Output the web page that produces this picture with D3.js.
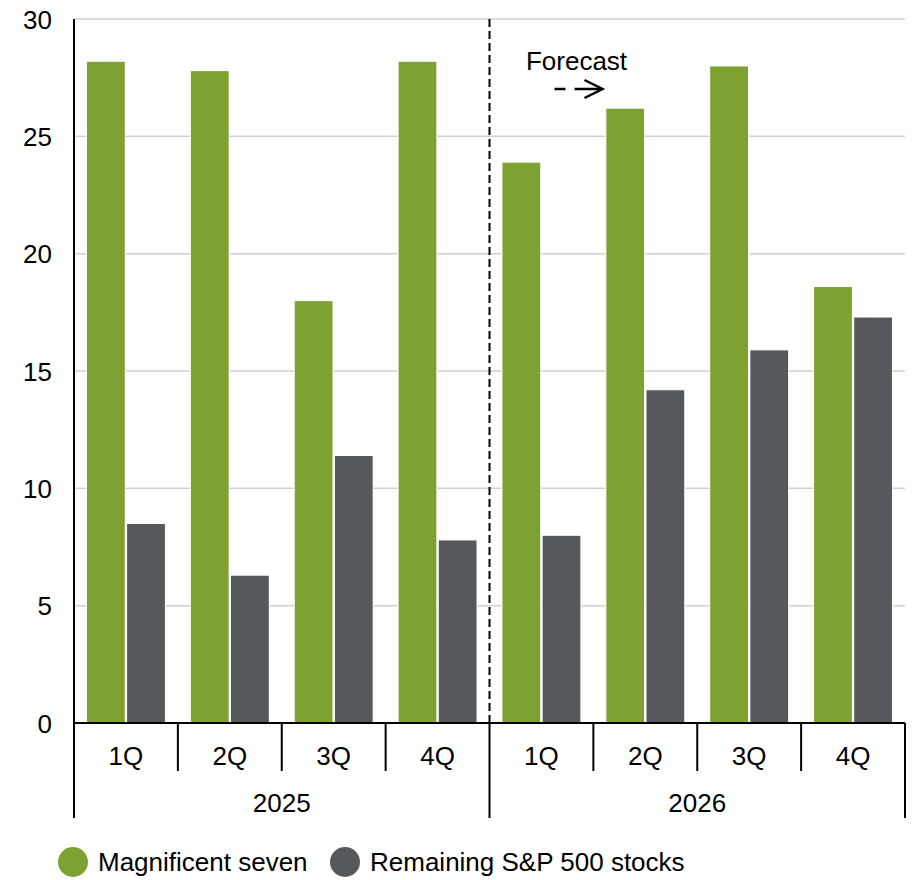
<!DOCTYPE html>
<html>
<head>
<meta charset="utf-8">
<script src="https://cdn.jsdelivr.net/npm/d3@7"></script>
<style>
  body { margin: 0; background: #fff; }
  text { font-family: "Liberation Sans", Arial, sans-serif; fill: #000; }
</style>
</head>
<body>
<div id="wrapper"></div>
<script>
const years = ["2025", "2026"]
const quarters = ["1Q", "2Q", "3Q", "4Q"]
const magSeven = [28.2, 27.8, 18.0, 28.2, 23.9, 26.2, 28.0, 18.6]
const remaining = [8.5, 6.3, 11.4, 7.8, 8.0, 14.2, 15.9, 17.3]
const yTicks = [0, 5, 10, 15, 20, 25, 30]
const seriesNames = ["Magnificent seven", "Remaining S&P 500 stocks"]
const colors = ["#7ea231", "#55595c"]

const fontSize = "26px"

const dimensions = {
  width: 922,
  height: 880,
  margin: { top: 19, right: 17, bottom: 157, left: 74 },
}
dimensions.boundedWidth = dimensions.width - dimensions.margin.left - dimensions.margin.right
dimensions.boundedHeight = dimensions.height - dimensions.margin.top - dimensions.margin.bottom

const categories = []
years.forEach(y => quarters.forEach(q => categories.push(y + "-" + q)))

const svg = d3.select("#wrapper")
  .append("svg")
    .attr("width", dimensions.width)
    .attr("height", dimensions.height)

const bounds = svg.append("g")
    .attr("transform", `translate(${dimensions.margin.left},${dimensions.margin.top})`)

const xScale = d3.scaleBand()
    .domain(categories)
    .range([0, dimensions.boundedWidth])
    .paddingInner(0.24)
    .paddingOuter(0.12)

const yearScale = d3.scaleBand()
    .domain(years)
    .range([0, dimensions.boundedWidth])

const subScale = d3.scaleBand()
    .domain([0, 1])
    .range([0, xScale.bandwidth()])
    .paddingInner(0.034)

const yScale = d3.scaleLinear()
    .domain([0, 30])
    .range([dimensions.boundedHeight, 0])

// gridlines
bounds.append("g")
  .selectAll("line")
  .data(yTicks.filter(d => d > 0))
  .join("line")
    .attr("x1", 0)
    .attr("x2", dimensions.boundedWidth)
    .attr("y1", d => yScale(d))
    .attr("y2", d => yScale(d))
    .attr("stroke", "#d0d0d0")
    .attr("stroke-width", 1.5)

// bars
const rows = categories.map((c, i) => ({ cat: c, values: [magSeven[i], remaining[i]] }))
const groups = bounds.append("g")
  .selectAll("g")
  .data(rows)
  .join("g")
    .attr("transform", d => `translate(${xScale(d.cat)},0)`)

groups.selectAll("rect")
  .data(d => d.values.map((v, k) => ({ v, k })))
  .join("rect")
    .attr("x", d => subScale(d.k))
    .attr("y", d => yScale(d.v))
    .attr("width", subScale.bandwidth())
    .attr("height", d => dimensions.boundedHeight - yScale(d.v))
    .attr("fill", d => colors[d.k])
    .attr("stroke", "#fff")
    .attr("stroke-width", 1)

// y axis labels
const yAxis = bounds.append("g")
  .call(d3.axisLeft(yScale).tickValues(yTicks).tickSize(0).tickPadding(22))
yAxis.select(".domain").remove()
yAxis.selectAll("text")
    .style("font-size", fontSize)
    .attr("dy", "0.35em")
    .style("font-family", "Liberation Sans, Arial, sans-serif")

bounds.append("line")
    .attr("x1", 0).attr("x2", 0)
    .attr("y1", 0).attr("y2", dimensions.boundedHeight)
    .attr("stroke", "#000").attr("stroke-width", 2)

// zero line
bounds.append("line")
    .attr("x1", 0).attr("x2", dimensions.boundedWidth)
    .attr("y1", yScale(0)).attr("y2", yScale(0))
    .attr("stroke", "#000").attr("stroke-width", 2)

// category separators
const step = xScale.step()
const catEdges = d3.range(categories.length + 1).map(i => i * step)
bounds.append("g")
  .selectAll("line")
  .data(catEdges)
  .join("line")
    .attr("x1", d => d).attr("x2", d => d)
    .attr("y1", yScale(0))
    .attr("y2", (d, i) => i % quarters.length === 0 ? yScale(0) + 95 : yScale(0) + 48)
    .attr("stroke", "#000").attr("stroke-width", 2)

bounds.append("g")
  .selectAll("text")
  .data(categories)
  .join("text")
    .attr("x", d => xScale(d) + xScale.bandwidth() / 2)
    .attr("y", yScale(0) + 42)
    .attr("text-anchor", "middle")
    .style("font-size", fontSize)
    .text(d => d.split("-")[1])

bounds.append("g")
  .selectAll("text")
  .data(years)
  .join("text")
    .attr("x", d => yearScale(d) + yearScale.bandwidth() / 2)
    .attr("y", yScale(0) + 89)
    .attr("text-anchor", "middle")
    .style("font-size", fontSize)
    .text(d => d)

// forecast divider
const divX = yearScale("2026")
bounds.append("line")
    .attr("x1", divX).attr("x2", divX)
    .attr("y1", 0).attr("y2", dimensions.boundedHeight)
    .attr("stroke", "#000").attr("stroke-width", 2)
    .attr("stroke-dasharray", "8,4")

bounds.append("text")
    .attr("x", divX + 87)
    .attr("y", 51)
    .attr("text-anchor", "middle")
    .style("font-size", fontSize)
    .text("Forecast")

bounds.append("line")
    .attr("x1", divX + 65).attr("x2", divX + 112)
    .attr("y1", 70).attr("y2", 70)
    .attr("stroke", "#000").attr("stroke-width", 2.5)
    .attr("stroke-dasharray", "11,9,40")

bounds.append("path")
    .attr("d", `M${divX + 95},${61} L${divX + 113},${70} L${divX + 95},${79}`)
    .attr("fill", "none")
    .attr("stroke", "#000").attr("stroke-width", 2.5)

// legend
const legend = svg.append("g")
    .attr("transform", "translate(0,862)")
const legendX = [73, 345]
seriesNames.forEach((name, i) => {
  legend.append("circle")
      .attr("cx", legendX[i])
      .attr("cy", 0)
      .attr("r", 15)
      .attr("fill", colors[i])
  legend.append("text")
      .attr("x", legendX[i] + 25)
      .attr("y", 0)
      .attr("dy", "0.35em")
      .style("font-size", fontSize)
      .text(name)
})
</script>
</body>
</html>
